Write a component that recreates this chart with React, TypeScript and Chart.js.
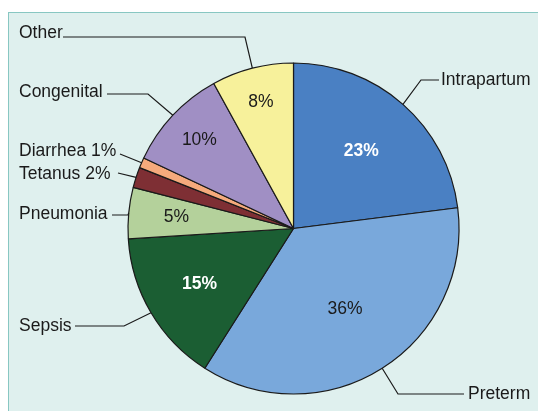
import React, { useEffect, useRef } from "react";
import { Chart, registerables } from "chart.js";

Chart.register(...registerables);

const categories = ["Intrapartum", "Preterm", "Sepsis", "Pneumonia", "Tetanus", "Diarrhea", "Congenital", "Other"];
const shares = [23, 36, 15, 5, 2, 1, 10, 8];
const sliceColors = ["#4a80c3", "#79a8db", "#1b5e33", "#b4d19b", "#7e2f34", "#f5aa7c", "#a08fc4", "#f7f19b"];
const outerLabels = ["Intrapartum", "Preterm", "Sepsis", "Pneumonia", "Tetanus 2%", "Diarrhea 1%", "Congenital", "Other"];
const innerLabels = ["23%", "36%", "15%", "5%", "", "", "10%", "8%"];

// layout of leader lines and text (pixel positions of annotations)
const leaderLayout = [
  { elbow: [421, 80], end: [439, 80], text: [441, 80] },
  { elbow: [398, 394], end: [464, 394], text: [468, 394] },
  { elbow: [124, 326], end: [75, 326], text: [19, 326] },
  { elbow: [128, 215], end: [112, 215], text: [19, 214] },
  { elbow: null, end: [118, 173], text: [19, 174] },
  { elbow: null, end: [120, 154], text: [19, 151] },
  { elbow: [148, 94], end: [107, 94], text: [19, 92] },
  { elbow: [245, 37], end: [63, 37], text: [19, 33] },
];
const innerRadial = [0.62, 0.58, 0.66, 0.71, 0, 0, 0.78, 0.79];
const innerBold = [true, false, true, false, false, false, false, false];
const innerColor = ["#ffffff", "#1a1a1a", "#ffffff", "#1a1a1a", "#1a1a1a", "#1a1a1a", "#1a1a1a", "#1a1a1a"];

const FONT = "'Liberation Sans', Arial, Helvetica, sans-serif";

const labelPlugin = {
  id: "pieLabels",
  afterDatasetsDraw(chart: any) {
    const ctx = chart.ctx;
    const meta = chart.getDatasetMeta(0);
    ctx.save();
    meta.data.forEach((arc: any, i: number) => {
      const { x, y, startAngle, endAngle, outerRadius } = arc.getProps(["x", "y", "startAngle", "endAngle", "outerRadius"], true);
      const mid = (startAngle + endAngle) / 2;
      if (innerLabels[i]) {
        const r = outerRadius * innerRadial[i];
        ctx.font = `${innerBold[i] ? "bold " : ""}17.5px ${FONT}`;
        ctx.fillStyle = innerColor[i];
        ctx.textAlign = "center";
        ctx.textBaseline = "middle";
        ctx.fillText(innerLabels[i], x + Math.cos(mid) * r, y + Math.sin(mid) * r);
      }
      const ax = x + Math.cos(mid) * outerRadius;
      const ay = y + Math.sin(mid) * outerRadius;
      const L = leaderLayout[i];
      ctx.beginPath();
      ctx.strokeStyle = "#1a1a1a";
      ctx.lineWidth = 1.2;
      ctx.moveTo(ax, ay);
      if (L.elbow) ctx.lineTo(L.elbow[0], L.elbow[1]);
      ctx.lineTo(L.end[0], L.end[1]);
      ctx.stroke();
      ctx.font = `17.5px ${FONT}`;
      ctx.fillStyle = "#1a1a1a";
      ctx.textAlign = "left";
      ctx.textBaseline = "middle";
      ctx.fillText(outerLabels[i], L.text[0], L.text[1]);
    });
    ctx.restore();
  },
};

export default function App() {
  const ref = useRef<HTMLCanvasElement | null>(null);
  useEffect(() => {
    if (!ref.current) return;
    const chart = new Chart(ref.current, {
      type: "pie",
      data: {
        labels: categories,
        datasets: [
          {
            data: shares,
            backgroundColor: sliceColors,
            borderColor: "#1a1a1a",
            borderWidth: 1.2,
            hoverOffset: 0,
            radius: 165.5,
          } as any,
        ],
      },
      options: {
        animation: false,
        responsive: false,
        maintainAspectRatio: false,
        layout: { padding: { left: 49, right: 0, top: 46, bottom: 0 } },
        plugins: {
          legend: { display: false },
          tooltip: { enabled: false },
        },
      },
      plugins: [labelPlugin],
    });
    return () => chart.destroy();
  }, []);
  return (
    <div style={{ position: "fixed", left: 0, top: 0, width: 538, height: 411, background: "#ffffff", overflow: "hidden" }}>
      <div
        style={{
          position: "absolute",
          left: 8,
          top: 12,
          width: 560,
          height: 430,
          background: "#dff0ee",
          border: "1.5px solid #88c7c2",
        }}
      />
      <canvas ref={ref} width={538} height={411} style={{ position: "absolute", left: 0, top: 0, width: 538, height: 411 }} />
    </div>
  );
}
